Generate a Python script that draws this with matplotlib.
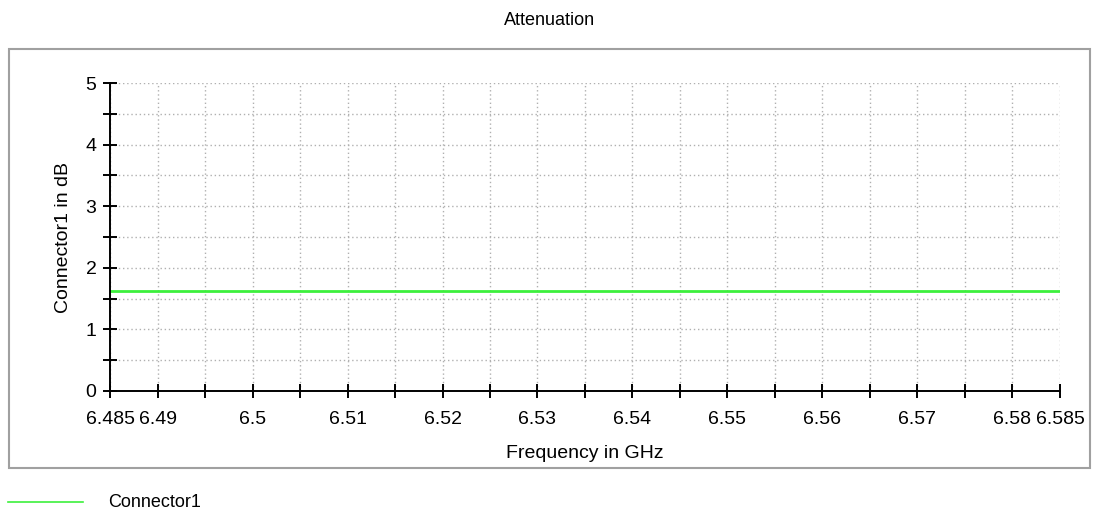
import matplotlib
matplotlib.use('Agg')
import matplotlib.pyplot as plt
from matplotlib.lines import Line2D
from matplotlib.patches import Rectangle

# data
freq = [6.485, 6.50, 6.52, 6.54, 6.56, 6.585]
atten = [1.62, 1.62, 1.62, 1.62, 1.62, 1.62]
major_ticks = [6.485, 6.49, 6.5, 6.51, 6.52, 6.53, 6.54, 6.55, 6.56, 6.57, 6.58, 6.585]
major_labels = ['6.485', '6.49', '6.5', '6.51', '6.52', '6.53', '6.54', '6.55', '6.56', '6.57', '6.58', '6.585']
minor_ticks = [6.495, 6.505, 6.515, 6.525, 6.535, 6.545, 6.555, 6.565, 6.575]
y_ticks = [0, 1, 2, 3, 4, 5]
y_minor = [0.5, 1.5, 2.5, 3.5, 4.5]

plt.rcParams['font.family'] = ['Liberation Sans', 'DejaVu Sans']

fig = plt.figure(figsize=(10.99, 5.14), dpi=100)

# outer frame
fig.patches.append(Rectangle((0.0082, 0.0895), 0.9836, 0.8152, transform=fig.transFigure,
                             fill=False, edgecolor='#a0a0a0', lw=1.5))

ax = fig.add_axes([0.1001, 0.2393, 0.8644, 0.5992])
ax.plot(freq, atten, color='#3cf03c', lw=2.0, solid_capstyle='butt')

ax.set_xlim(6.485, 6.585)
ax.set_ylim(0, 5)
ax.set_xticks(major_ticks)
ax.set_xticklabels(major_labels, fontsize=14)
ax.set_xticks(minor_ticks, minor=True)
ax.set_yticks(y_ticks)
ax.set_yticklabels([str(v) for v in y_ticks], fontsize=14)
ax.set_yticks(y_minor, minor=True)

for s in ['top', 'right']:
    ax.spines[s].set_visible(False)
for s in ['left', 'bottom']:
    ax.spines[s].set_linewidth(1.4)

ax.tick_params(which='both', direction='inout', length=9.5, width=1.4, colors='black')
ax.tick_params(axis='x', which='both', pad=10)
ax.tick_params(axis='y', which='both', pad=5)
ax.grid(True, which='both', color='#b0b0b0', linestyle=(0, (1, 2)), lw=1)
ax.set_axisbelow(True)

ax.set_xlabel('Frequency in GHz', fontsize=14, labelpad=12)
ax.set_ylabel('Connector1 in dB', fontsize=14, labelpad=10)

fig.text(0.5, 0.961, 'Attenuation', ha='center', va='center', fontsize=13)

# legend below frame
fig.add_artist(Line2D([8 / 1099, 83 / 1099], [0.0233, 0.0233], transform=fig.transFigure,
                      color='#3cf03c', lw=1.2))
fig.text(108 / 1099, 0.0233, 'Connector1', ha='left', va='center', fontsize=13)

fig.savefig('out.png', dpi=100)
